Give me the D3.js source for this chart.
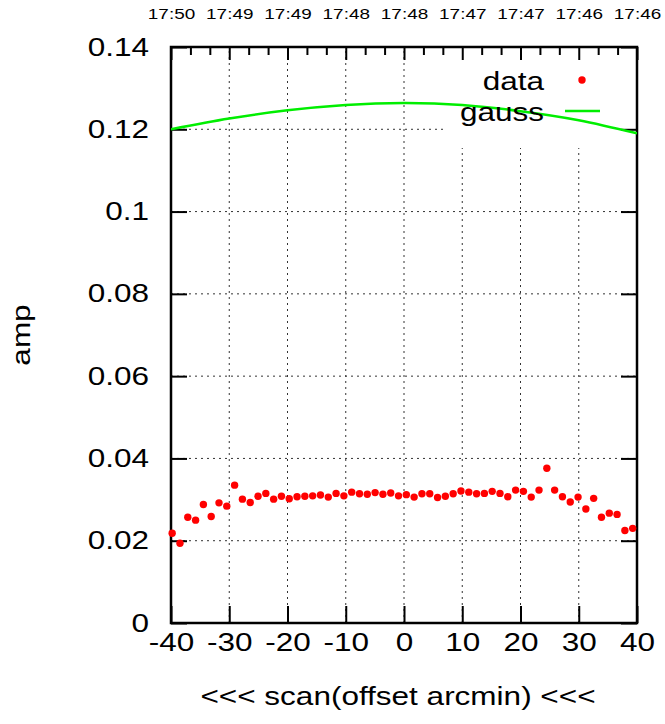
<!DOCTYPE html>
<html><head><meta charset="utf-8">
<script src="https://cdn.jsdelivr.net/npm/d3@7"></script>
<style>
html,body{margin:0;padding:0;background:#fff;}
text{font-family:"Liberation Sans",Arial,sans-serif;fill:#000;}
</style></head>
<body>
<svg id="chart" width="665" height="724"></svg>
<script>
// ---- data ----
const offsets = [-39.8,-38.46,-37.12,-35.78,-34.44,-33.1,-31.76,-30.42,-29.08,-27.74,
  -26.4,-25.06,-23.72,-22.38,-21.04,-19.7,-18.36,-17.02,-15.68,-14.34,
  -13.0,-11.66,-10.32,-8.98,-7.64,-6.3,-4.96,-3.62,-2.28,-0.94,
  0.4,1.74,3.08,4.42,5.76,7.1,8.44,9.78,11.12,12.46,
  13.8,15.14,16.48,17.82,19.16,20.5,21.84,23.18,24.52,25.86,
  27.2,28.54,29.88,31.22,32.56,33.9,35.24,36.58,37.92,39.26];
const amps = [0.0218,0.0194,0.0257,0.0250,0.0288,0.0259,0.0292,0.0284,0.0335,0.0301,
  0.0293,0.0308,0.0315,0.0301,0.0308,0.0302,0.0307,0.0308,0.0309,0.0311,
  0.0306,0.0315,0.0309,0.0318,0.0314,0.0313,0.0317,0.0313,0.0316,0.0309,
  0.0312,0.0306,0.0314,0.0314,0.0305,0.0308,0.0314,0.0321,0.0318,0.0314,
  0.0315,0.0320,0.0315,0.0307,0.0323,0.0320,0.0306,0.0323,0.0376,0.0323,
  0.0307,0.0294,0.0306,0.0277,0.0303,0.0257,0.0267,0.0264,0.0225,0.0230];
const gaussX = [-40,-30,-20,-10,0,10,20,30,40];
const gaussY = [0.1200,0.1226,0.1246,0.1259,0.1264,0.1259,0.1244,0.1222,0.1190];
const xTicks = [-40,-30,-20,-10,0,10,20,30,40];
const yTicks = [0,0.02,0.04,0.06,0.08,0.1,0.12,0.14];
const yTickLabels = ["0","0.02","0.04","0.06","0.08","0.1","0.12","0.14"];
const timeLabels = ["17:50","17:49","17:49","17:48","17:48","17:47","17:47","17:46","17:46"];

// ---- layout ----
const L=171, R=637, T=47, B=623;
const STRETCH = 1.26;
const svg = d3.select("#chart");
const x = d3.scaleLinear().domain([-40,40]).range([L,R]);
const y = d3.scaleLinear().domain([0,0.14]).range([B,T]);

svg.append("defs").append("clipPath").attr("id","clip")
  .append("rect").attr("x",L).attr("y",T).attr("width",R-L).attr("height",B-T);

// grid
const grid = svg.append("g").attr("stroke","#333").attr("stroke-width",1).attr("stroke-dasharray","2,4");
xTicks.slice(1,-1).forEach(v=>{
  grid.append("line").attr("x1",x(v)).attr("x2",x(v)).attr("y1",B).attr("y2",T);
});
yTicks.slice(1,-1).forEach(v=>{
  grid.append("line").attr("x1",L).attr("x2",R).attr("y1",y(v)).attr("y2",y(v));
});

// legend background box
svg.append("rect").attr("x",447).attr("y",T+1).attr("width",R-447).attr("height",100).attr("fill","#fff");

// axes
const axB = d3.axisBottom(x).tickValues(xTicks).tickSize(-17).tickFormat(d=>d).tickPadding(10);
const gB = svg.append("g").attr("transform",`translate(0,${B})`).call(axB);
const axT = d3.axisTop(x).tickValues(xTicks).tickSize(-13).tickFormat((d,i)=>timeLabels[i]).tickPadding(28);
const gT = svg.append("g").attr("transform",`translate(0,${T})`).call(axT);
const minorT = d3.range(0,8).flatMap(i=>[-40+i*10+10/3,-40+i*10+20/3]);
const gTm = svg.append("g").attr("transform",`translate(0,${T})`)
  .call(d3.axisTop(x).tickValues(minorT).tickSize(-8).tickFormat(""));
const axL = d3.axisLeft(y).tickValues(yTicks).tickSize(-16).tickFormat((d,i)=>yTickLabels[i]).tickPadding(22);
const gL = svg.append("g").attr("transform",`translate(${L},0)`).call(axL);
const axR = d3.axisRight(y).tickValues(yTicks).tickSize(-16).tickFormat("");
const gR = svg.append("g").attr("transform",`translate(${R},0)`).call(axR);

[gB,gT,gTm,gL,gR].forEach(g=>{
  g.select(".domain").remove();
  g.selectAll(".tick line").attr("stroke","#000").attr("stroke-width",2);
});
gB.selectAll("text").attr("font-size",25).attr("font-family","Liberation Sans, Arial, sans-serif");
gL.selectAll("text").attr("font-size",25).attr("font-family","Liberation Sans, Arial, sans-serif");
gT.selectAll("text").attr("font-size",15).attr("font-family","Liberation Sans, Arial, sans-serif");

// frame
svg.append("rect").attr("x",L).attr("y",T).attr("width",R-L).attr("height",B-T)
  .attr("fill","none").attr("stroke","#000").attr("stroke-width",2.5);

// gauss curve
const line = d3.line().x((d,i)=>x(gaussX[i])).y(d=>y(d)).curve(d3.curveNatural);
svg.append("path").attr("clip-path","url(#clip)").datum(gaussY)
  .attr("d",line).attr("fill","none").attr("stroke","#00ee00").attr("stroke-width",2.5);

// data points
svg.append("g").selectAll("circle").data(amps).join("circle")
  .attr("cx",(d,i)=>x(offsets[i])).attr("cy",d=>y(d)).attr("r",3.7).attr("fill","#ff0000");

// legend
svg.append("text").attr("x",544).attr("y",90).attr("text-anchor","end").attr("font-size",25).text("data");
svg.append("circle").attr("cx",582).attr("cy",80).attr("r",3.7).attr("fill","#ff0000");
svg.append("text").attr("x",544).attr("y",121).attr("text-anchor","end").attr("font-size",25).text("gauss");
svg.append("line").attr("x1",565).attr("x2",600).attr("y1",111).attr("y2",111)
  .attr("stroke","#00ee00").attr("stroke-width",2.5);

// axis titles
svg.append("text").attr("x",398).attr("y",705).attr("text-anchor","middle").attr("font-size",25)
  .text("<<< scan(offset arcmin) <<<");
svg.append("text").attr("transform","translate(30,335) rotate(-90)").attr("text-anchor","middle")
  .attr("font-size",25).text("amp");

// horizontal stretch of all text to mimic the reference renderer
svg.selectAll("text").each(function(){
  const len = this.getComputedTextLength();
  if (len > 0) {
    d3.select(this).attr("textLength", len*STRETCH).attr("lengthAdjust","spacingAndGlyphs");
  }
});
</script>
</body></html>
